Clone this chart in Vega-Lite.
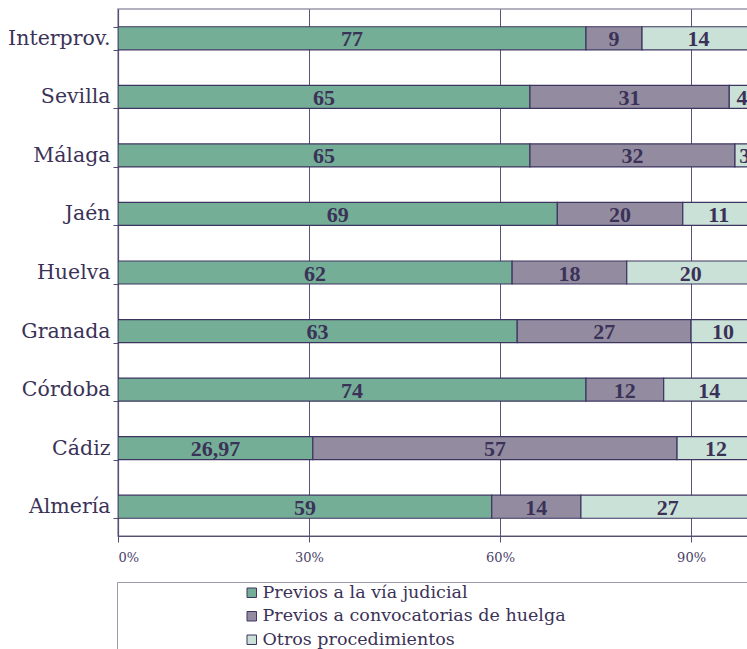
{
  "$schema": "https://vega.github.io/schema/vega-lite/v6.json",
  "autosize": {"type": "none"},
  "padding": {"left": 118, "top": 9, "right": 0, "bottom": 113},
  "width": 631,
  "height": 527,
  "background": "white",
  "config": {
    "view": {"stroke": "#9c97ac", "strokeWidth": 1.5},
    "axis": {"labelColor": "#3b3257", "domainColor": "#554e72", "tickColor": "#554e72"}
  },
  "data": {
    "values": [
      {"region": "Interprov.", "serie": "Previos a la vía judicial", "value": 73.5, "label": "77"},
      {"region": "Interprov.", "serie": "Previos a convocatorias de huelga", "value": 8.8, "label": "9"},
      {"region": "Interprov.", "serie": "Otros procedimientos", "value": 17.7, "label": "14"},
      {"region": "Sevilla", "serie": "Previos a la vía judicial", "value": 64.7, "label": "65"},
      {"region": "Sevilla", "serie": "Previos a convocatorias de huelga", "value": 31.3, "label": "31"},
      {"region": "Sevilla", "serie": "Otros procedimientos", "value": 4.0, "label": "4"},
      {"region": "Málaga", "serie": "Previos a la vía judicial", "value": 64.7, "label": "65"},
      {"region": "Málaga", "serie": "Previos a convocatorias de huelga", "value": 32.2, "label": "32"},
      {"region": "Málaga", "serie": "Otros procedimientos", "value": 3.1, "label": "3"},
      {"region": "Jaén", "serie": "Previos a la vía judicial", "value": 69.0, "label": "69"},
      {"region": "Jaén", "serie": "Previos a convocatorias de huelga", "value": 19.7, "label": "20"},
      {"region": "Jaén", "serie": "Otros procedimientos", "value": 11.3, "label": "11"},
      {"region": "Huelva", "serie": "Previos a la vía judicial", "value": 61.9, "label": "62"},
      {"region": "Huelva", "serie": "Previos a convocatorias de huelga", "value": 18.0, "label": "18"},
      {"region": "Huelva", "serie": "Otros procedimientos", "value": 20.1, "label": "20"},
      {"region": "Granada", "serie": "Previos a la vía judicial", "value": 62.7, "label": "63"},
      {"region": "Granada", "serie": "Previos a convocatorias de huelga", "value": 27.3, "label": "27"},
      {"region": "Granada", "serie": "Otros procedimientos", "value": 10.0, "label": "10"},
      {"region": "Córdoba", "serie": "Previos a la vía judicial", "value": 73.5, "label": "74"},
      {"region": "Córdoba", "serie": "Previos a convocatorias de huelga", "value": 12.2, "label": "12"},
      {"region": "Córdoba", "serie": "Otros procedimientos", "value": 14.3, "label": "14"},
      {"region": "Cádiz", "serie": "Previos a la vía judicial", "value": 30.6, "label": "26,97"},
      {"region": "Cádiz", "serie": "Previos a convocatorias de huelga", "value": 57.2, "label": "57"},
      {"region": "Cádiz", "serie": "Otros procedimientos", "value": 12.2, "label": "12"},
      {"region": "Almería", "serie": "Previos a la vía judicial", "value": 58.7, "label": "59"},
      {"region": "Almería", "serie": "Previos a convocatorias de huelga", "value": 14.0, "label": "14"},
      {"region": "Almería", "serie": "Otros procedimientos", "value": 27.3, "label": "27"}
    ]
  },
  "transform": [
    {"stack": "value", "groupby": ["region"], "sort": [{"field": "serie", "order": "descending"}], "as": ["x0", "x1"]}
  ],
  "encoding": {
    "y": {
      "field": "region", "type": "nominal",
      "sort": ["Interprov.", "Sevilla", "Málaga", "Jaén", "Huelva", "Granada", "Córdoba", "Cádiz", "Almería"],
      "scale": {"paddingInner": 0.607, "paddingOuter": 0.3035},
      "axis": {
        "title": null, "tickBand": "extent", "tickSize": 5, "labelPadding": 3,
        "labelFont": "DejaVu Serif", "labelFontSize": 20.5, "labelColor": "#3b3257",
        "domainColor": "#554e72", "tickColor": "#554e72", "domainWidth": 1.2
      }
    }
  },
  "layer": [
    {
      "mark": {"type": "bar", "stroke": "#3d3560", "strokeWidth": 1.2, "clip": true},
      "encoding": {
        "x": {
          "field": "x0", "type": "quantitative",
          "scale": {"domain": [0, 99.1], "nice": false, "zero": true},
          "axis": {
            "title": null, "values": [0, 30, 60, 90], "labelExpr": "datum.value + '%'",
            "grid": true, "gridColor": "#5a5378", "gridWidth": 1,
            "tickSize": 6, "labelPadding": 9, "labelFont": "DejaVu Serif", "labelFontSize": 13,
            "labelColor": "#4a4268", "domainColor": "#554e72", "domainWidth": 1.2
          }
        },
        "x2": {"field": "x1"},
        "color": {
          "field": "serie", "type": "nominal",
          "scale": {
            "domain": ["Previos a la vía judicial", "Previos a convocatorias de huelga", "Otros procedimientos"],
            "range": ["#74ae97", "#938ca1", "#cae1d7"]
          },
          "legend": {
            "orient": "none", "legendX": -1, "legendY": 573, "direction": "vertical",
            "title": ".",
            "titleOrient": "right", "titleColor": "rgba(255,255,255,0)", "titleFont": "DejaVu Serif", "titleFontSize": 2, "titlePadding": 182,
            "padding": 2, "strokeColor": "#9d98ad",
            "symbolType": "square", "symbolSize": 90, "symbolStrokeColor": "#3d3560", "symbolStrokeWidth": 1,
            "symbolOpacity": 1, "symbolOffset": 124,
            "labelFont": "DejaVu Serif", "labelFontSize": 17.5, "labelColor": "#3b3257", "labelLimit": 2000,
            "labelOffset": 2, "rowPadding": 4.5
          }
        }
      }
    },
    {
      "transform": [{"fold": ["x0", "x1"], "as": ["k", "pos"]}],
      "mark": {"type": "text", "font": "Liberation Serif", "fontWeight": "bold", "fontSize": 22, "color": "#3b3257", "baseline": "middle", "dy": 1},
      "encoding": {
        "x": {"aggregate": "mean", "field": "pos", "type": "quantitative"},
        "text": {"field": "label", "type": "nominal"},
        "detail": {"field": "serie"}
      }
    }
  ]
}
